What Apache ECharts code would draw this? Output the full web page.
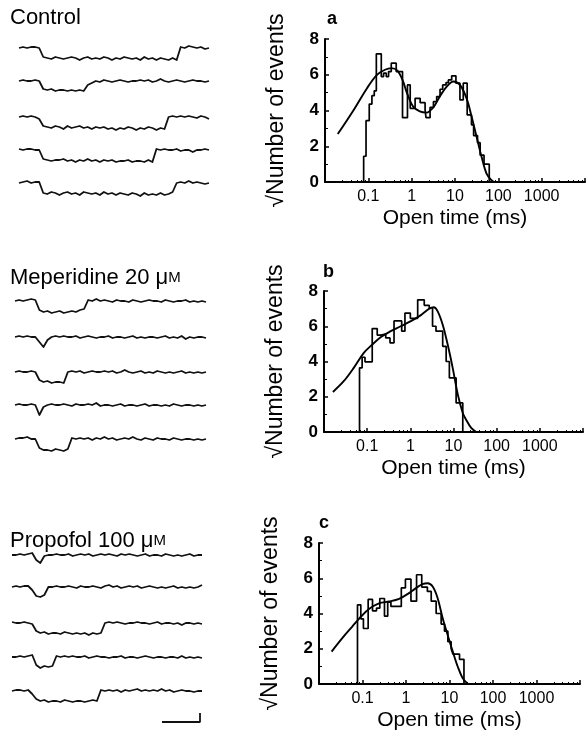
<!DOCTYPE html>
<html><head><meta charset="utf-8">
<script src="https://cdn.jsdelivr.net/npm/echarts@6/dist/echarts.min.js"></script>
<style>html,body{margin:0;padding:0;background:#fff}#c{width:588px;height:733px}</style>
</head><body><div id="c"></div>
<script>
// ---------- Left: single-channel current traces (normalised current, closed = 0, open ≈ -1) ----------
const conditionTitles = ['Control', 'Meperidine 20 ', 'Propofol 100 '];
const concUnit = 'μM';

const control1 = [0,0.1,0,0.1,0.1,0,-0.9,-1,-1.1,-0.9,-1,-1.1,-1,-0.9,-1,-1.2,-1,-0.9,-1.1,-1,-1.1,-0.9,-1,-1.2,-1,-1.1,-0.9,-1,-1.1,-1,-1.2,-0.9,-1.1,-1,-1.2,-1,-1.1,-1.2,-1,-1.2,0.1,0,0.2,0.1,0,0.1,-0.1,0];
const control2 = [0,0.1,0,0,0.1,0,-0.8,-0.9,-0.8,-1,-0.9,-0.9,-1,-0.9,-1,-0.9,-1,-0.4,-0.2,0,-0.1,0.1,0,-0.1,0,0.1,0,-0.1,0,0,0.1,0,0.1,-0.1,0,0.2,0,-0.1,0,0.1,0,-0.1,0,0.1,0,0,-0.1,0];
const control3 = [0,0.1,0,0.1,0,-0.2,-0.9,-1,-1.1,-0.9,-1,-1.2,-0.9,-1.1,-1,-0.9,-1.1,-1,-1.2,-1,-1.1,-1,-1.2,-1.1,-1.3,-1.1,-1.2,-1,-1.1,-1.3,-1.1,-1.2,-1,-1.1,-1.3,-1.1,-1.2,0,0.1,0,0.1,0,0.1,0,-0.1,0.1,0,-0.2];
const control4 = [0.1,0,0.1,0.1,0,0,-0.9,-1,-1.1,-1,-1,-0.9,-1.1,-1,-1.2,-1,-1.1,-0.9,-1.1,-1,-1.2,-1,-1.1,-1,-1.2,-1.1,-1.1,-1,-1.2,-1.1,-1.1,-1.2,-1,-1.2,0.1,0,0.1,0,0,0.1,-0.1,0,0,-0.2,0,0,0.1,0];
const control5 = [0,0.1,0.2,0,0.1,0.1,-1,-1.1,-0.9,-1,-1.2,-1,-0.9,-1.1,-1,-1.2,-0.9,-1,-1.1,-1,-1.2,-0.9,-1.1,-1,-1.2,-1,-1.1,-1.2,-1,-1.1,-1.3,-1,-1.2,-1.1,-1.2,-1,-1.2,-1.1,-0.9,0,0.1,0,0.2,0,0.1,0,-0.1,0];

const meperidine1 = [0,0.1,0,0.1,0.2,0.1,-0.9,-1.1,-1,-1.2,-1.1,-1,-1.2,-1.1,-1,-1.1,-0.9,-0.8,0.1,0,0.2,0,0.1,0,-0.1,0.1,0,0,-0.1,0.1,0,-0.1,0,0.1,0,0,-0.1,0.1,0,-0.1,0,0,0.1,-0.1,0,-0.1,0,-0.1];
const meperidine2 = [0,0.1,0,0.1,0,0,-0.5,-1,-0.3,0,0.1,0,0.1,0,0,0.1,-0.1,0,0.1,0,-0.1,0,0,0.1,-0.1,0,0,-0.1,0,0.1,-0.1,0,-0.1,0,0,-0.1,0,0.1,-0.1,0,-0.1,0.1,-0.2,0,-0.1,0,0,-0.1];
const meperidine3 = [0,0.1,0,0,0.1,0,-0.8,-1,-0.9,-1.1,-1,-1,-1.1,0,0.1,0,0.1,-0.1,0,0.1,0,0,0.1,0,0.1,-0.1,0,0.2,0,-0.1,0,0.1,-0.1,0,-0.1,0.1,0,-0.1,0,-0.1,0,0.1,-0.1,0,-0.1,0,-0.1,0];
const meperidine4 = [0,0.1,0,0,0.1,0,-1,-0.2,0,0.1,0,0,0.1,0,-0.1,0.1,0,0,0.1,0,0.2,-0.1,0,0,-0.1,0,0.1,-0.1,0,0,-0.1,0,0.1,-0.1,0,0,-0.1,0,-0.1,0.1,0,-0.1,0,0,-0.1,0,-0.1,0];
const meperidine5 = [0,0.1,0.1,0.2,0,0,-0.9,-1.1,-1.1,-1.2,-1,-1.1,-1.2,-1,0.1,0,0.1,0,0.1,-0.1,0.1,0,0.2,0,0.1,-0.1,0,0.1,0,0.2,0,-0.1,0.1,0,-0.1,0.1,0,0,-0.1,0.1,0,-0.1,0,0,-0.1,0,-0.1,0];

const propofol1 = [0,0,0.1,0,0.1,0.2,-0.5,-0.8,-0.1,0,0,0.1,0,0,0.1,-0.1,0,0.1,0,0.1,-0.1,0,0.1,0,0.1,0,-0.1,0.1,0,0.1,0,-0.1,0,0.1,-0.1,0,0,-0.1,0.1,0,-0.1,0,-0.1,0,0.1,-0.1,0,0];
const propofol2 = [0,0.1,0,0.1,0.1,-0.3,-0.9,-1,-0.8,0,0,0.1,0,0,0.1,0,-0.1,0.1,0,0,0.1,0,-0.1,0.1,0.2,0,0.1,-0.1,0,0.1,0,0.1,-0.1,0,0.1,0,-0.1,0,-0.1,0,0.1,-0.1,0,-0.1,0,-0.1,0,0.2];
const propofol3 = [0.1,0,0,0.1,0,-0.1,-0.8,-1,-0.9,-1.1,-1,-1,-1.1,-0.9,-1,-1.1,-1,-1.1,-1,-1.2,-1,-1.1,-1,0,0.1,0,0.1,0,-0.1,0,0,0.1,0,0,-0.1,0,0.1,-0.1,0,0,-0.1,0,-0.2,0,0,-0.1,0,-0.1];
const propofol4 = [0,0,0.1,0,0.1,0.2,-0.8,-1.1,-0.9,-1,-0.9,0.1,0,0.1,0,0.1,0,0,0.1,-0.1,0,0.1,0,0,-0.1,0,0,0.1,-0.1,0,0,-0.1,0,0.1,0,-0.1,0,0,-0.1,0,0,-0.1,0.1,-0.1,0,-0.1,0,-0.1];
const propofol5 = [0,0.1,0.1,0,0.1,-0.3,-0.8,-1,-0.9,-1.1,-1,-1,-1.1,-0.9,-1,-1.1,-1,-1,-1.1,-1,-0.9,-1,0.1,0,0.1,0,0.1,-0.1,0.1,0,0.1,0.2,0,0.1,0,0.1,0,0.2,0,0.1,-0.1,0,0.1,0,0,-0.1,0,0];

// scale bar: [time, current] corner points (time units, current units)
const scaleBarTime = [0, 10, 10];
const scaleBarCurrent = [0, 0, 1];

// ---------- Right: open-time histograms (sqrt ordinate, log abscissa in ms) ----------
const xTickLabels = ['0.1', '1', '10', '100', '1000'];
const yTicks = [0, 2, 4, 6, 8];
const panelLetters = ['a', 'b', 'c'];

const aEdges = [0.078,0.0885,0.105,0.121,0.137,0.153,0.199,0.225,0.259,0.293,0.338,0.44,0.615,0.80,0.925,1.2,1.57,2.04,2.14,2.66,3.18,3.78,4.52,5.2,6.21,7.03,8.38,10.5,13.0,15.5,19.1,24.0,26.9,33.1,38.0,46.8,61.7];
const aHeights = [1.44,3.43,4.36,4.83,5.1,7.17,5.9,6.09,5.9,6.18,6.65,6.18,3.6,5.43,4.12,4.68,4.44,4.03,3.6,4.18,4.5,4.78,5.19,5.43,5.56,5.71,5.94,5.53,4.59,5.53,3.75,3.2,2.6,2.2,1.5,1.0];
const aFitT = [0.0197,0.0459,0.0933,0.158,0.242,0.344,0.463,0.614,0.785,1.08,1.54,2.19,3.18,4.52,6.43,9.16,13.0,18.5,24.2,31.5,41.0,53.5,69.7,79.4];
const aFitV = [2.68,4.03,5.25,5.99,6.28,6.37,6.24,5.71,4.96,4.22,3.95,3.88,4.18,4.81,5.34,5.62,5.43,4.68,3.65,2.53,1.41,0.47,0.1,0];

const bEdges = [0.0665,0.0764,0.089,0.131,0.171,0.205,0.269,0.338,0.419,0.631,0.75,1.0,1.48,2.1,2.74,3.27,3.93,5.62,6.76,8.02,11.5,16.4];
const bHeights = [3.64,4.24,3.98,5.87,5.5,5.55,5.34,5.06,6.3,5.72,6.75,6.45,7.5,7.19,7.05,6.0,5.72,4.86,4.0,3.07,1.65];
const bFitT = [0.0161,0.0286,0.0489,0.0836,0.131,0.205,0.351,0.6,1.03,1.76,2.75,3.47,4.27,5.6,7.33,9.57,12.6,16.4,19.6,25.7,33.6];
const bFitV = [2.27,2.88,3.64,4.49,4.96,5.38,5.72,6.0,6.29,6.63,7.0,7.08,6.86,6.1,4.96,3.64,2.12,1.08,0.7,0.23,0];

const cEdges = [0.0767,0.0914,0.105,0.135,0.17,0.21,0.25,0.32,0.38,0.45,0.78,0.97,1.3,1.75,2.3,3.1,3.8,4.93,6.43,7.67,9.18,10.9,11.97,17.0,21.5];
const cHeights = [4.49,3.7,3.15,4.8,4.15,4.3,4.85,3.85,4.65,4.4,5.45,5.95,4.7,6.2,5.5,5.25,4.7,4.0,3.4,3.0,2.4,2.0,1.7,1.4];
const cFitT = [0.0195,0.0343,0.0582,0.083,0.141,0.24,0.408,0.694,1.08,1.69,2.4,3.14,4.1,5.34,6.97,9.08,11.9,15.5,20.2,26.6];
const cFitV = [1.84,2.6,3.26,3.7,4.26,4.58,4.68,4.83,5.1,5.44,5.67,5.72,5.53,4.87,3.73,2.78,1.84,0.98,0.32,0];

// ---------- build ----------
const FONT = '"Liberation Sans", Arial, Helvetica, sans-serif';
const chart = echarts.init(document.getElementById('c'), null, {renderer: 'canvas'});

const grids = [], xAxes = [], yAxes = [], series = [];

// trace layout (pixels) — layout only, not data
const traceGroups = [
  {traces: [control1, control2, control3, control4, control5], left: 19, width: 190, tops: [38, 71, 107, 140, 173]},
  {traces: [meperidine1, meperidine2, meperidine3, meperidine4, meperidine5], left: 15, width: 191, tops: [291, 327, 362, 395, 429]},
  {traces: [propofol1, propofol2, propofol3, propofol4, propofol5], left: 12, width: 190, tops: [545, 577, 613, 647, 681]}
];
traceGroups.forEach(g => {
  g.traces.forEach((tr, k) => {
    const gi = grids.length;
    grids.push({left: g.left, top: g.tops[k], width: g.width, height: 30});
    xAxes.push({gridIndex: gi, type: 'category', boundaryGap: false, show: false, data: tr.map((_, i) => i)});
    yAxes.push({gridIndex: gi, type: 'value', min: -2, max: 1, show: false});
    series.push({type: 'line', xAxisIndex: gi, yAxisIndex: gi, data: tr, symbol: 'none', silent: true,
      lineStyle: {color: '#111', width: 1.8, join: 'round'}});
  });
});

// scale bar
{
  const gi = grids.length;
  grids.push({left: 162, top: 713, width: 38, height: 9});
  xAxes.push({gridIndex: gi, type: 'value', min: 0, max: 10, show: false});
  yAxes.push({gridIndex: gi, type: 'value', min: 0, max: 1, show: false});
  series.push({type: 'line', xAxisIndex: gi, yAxisIndex: gi, symbol: 'none', silent: true,
    data: scaleBarTime.map((t, i) => [t, scaleBarCurrent[i]]), lineStyle: {color: '#111', width: 1.8}});
}

// histograms
const panels = [
  {edges: aEdges, heights: aHeights, fitT: aFitT, fitV: aFitV, left: 325, top: 39, width: 261, height: 143},
  {edges: bEdges, heights: bHeights, fitT: bFitT, fitV: bFitV, left: 324, top: 291, width: 259, height: 141},
  {edges: cEdges, heights: cHeights, fitT: cFitT, fitV: cFitV, left: 319, top: 543, width: 261, height: 141}
];
panels.forEach(p => {
  const gi = grids.length;
  grids.push({left: p.left, top: p.top, width: p.width, height: p.height});
  xAxes.push({
    gridIndex: gi, type: 'log', logBase: 10, min: 0.01, max: 10000, splitNumber: 6,
    axisLine: {show: true, onZero: false, lineStyle: {color: '#000', width: 2}},
    axisTick: {show: true, inside: true, length: 4, lineStyle: {color: '#000', width: 1.5}},
    minorTick: {show: true, splitNumber: 6, length: 2, lineStyle: {color: '#000', width: 1}},
    splitLine: {show: false}, minorSplitLine: {show: false},
    axisLabel: {color: '#000', fontSize: 16, fontFamily: FONT, margin: 7,
      formatter: v => { const s = String(+(+v).toPrecision(3)); return xTickLabels.indexOf(s) >= 0 ? s : ''; }},
    name: 'Open time (ms)', nameLocation: 'middle', nameGap: 26,
    nameTextStyle: {color: '#000', fontSize: 21, fontFamily: FONT}
  });
  yAxes.push({
    gridIndex: gi, type: 'value', min: yTicks[0], max: yTicks[yTicks.length - 1], interval: yTicks[1] - yTicks[0],
    axisLine: {show: true, lineStyle: {color: '#000', width: 2}},
    axisTick: {show: true, inside: true, length: 4, lineStyle: {color: '#000', width: 1.5}},
    minorTick: {show: true, splitNumber: 2, length: 3, lineStyle: {color: '#000', width: 1}},
    splitLine: {show: false},
    axisLabel: {color: '#000', fontSize: 17, fontWeight: 'bold', fontFamily: FONT, margin: 6},
    name: '√Number of events', nameLocation: 'middle', nameGap: 37,
    nameTextStyle: {color: '#000', fontSize: 23, fontFamily: FONT}
  });
  const step = [[p.edges[0], 0]];
  p.heights.forEach((h, i) => step.push([p.edges[i], h]));
  step.push([p.edges[p.edges.length - 1], 0]);
  series.push({type: 'line', xAxisIndex: gi, yAxisIndex: gi, step: 'end', data: step, symbol: 'none', silent: true,
    lineStyle: {color: '#000', width: 1.7}});
  series.push({type: 'line', xAxisIndex: gi, yAxisIndex: gi, smooth: 0.35, data: p.fitT.map((t, i) => [t, p.fitV[i]]),
    symbol: 'none', silent: true, lineStyle: {color: '#000', width: 1.9}});
});

const titles = [
  {text: conditionTitles[0], left: 10, top: 7},
  {text: conditionTitles[1] + '{u|μ}{m|M}', left: 10, top: 267},
  {text: conditionTitles[2] + '{u|μ}{m|M}', left: 10, top: 530},
].map(t => ({
  text: t.text, left: t.left, top: t.top, padding: 0,
  textStyle: {fontSize: 22, fontWeight: 'normal', color: '#000', fontFamily: FONT,
    rich: {u: {fontSize: 22, fontFamily: FONT, color: '#000'}, m: {fontSize: 15, fontFamily: FONT, color: '#000'}}}
}));
[[327, 10], [323, 263], [319, 514]].forEach((pos, i) => titles.push({
  text: panelLetters[i], left: pos[0], top: pos[1], padding: 0,
  textStyle: {fontSize: 18, fontWeight: 'bold', color: '#000', fontFamily: FONT}
}));

chart.setOption({
  animation: false,
  backgroundColor: '#fff',
  textStyle: {fontFamily: FONT},
  title: titles,
  grid: grids, xAxis: xAxes, yAxis: yAxes, series: series
});
</script></body></html>
